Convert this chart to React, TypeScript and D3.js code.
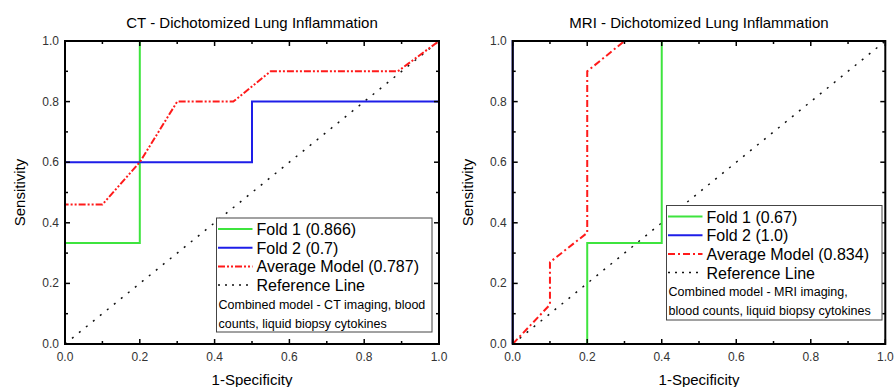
import * as d3 from "d3";

// ROC points, [1-specificity, sensitivity]
const ctFold1: [number, number][] = [[0, 0], [0, 0.333], [0.2, 0.333], [0.2, 1], [1, 1]];
const ctFold2: [number, number][] = [[0, 0], [0, 0.6], [0.5, 0.6], [0.5, 0.8], [1, 0.8], [1, 1]];
const ctAverage: [number, number][] = [
  [0, 0], [0, 0.46], [0.1, 0.46], [0.2, 0.6], [0.3, 0.8], [0.45, 0.8],
  [0.55, 0.9], [0.89, 0.9], [1, 1],
];
const mriFold1: [number, number][] = [[0, 0], [0.2, 0], [0.2, 0.333], [0.4, 0.333], [0.4, 1], [1, 1]];
const mriFold2: [number, number][] = [[0, 0], [0, 1], [1, 1]];
const mriAverage: [number, number][] = [
  [0, 0], [0.1, 0.13], [0.1, 0.27], [0.2, 0.367], [0.2, 0.9], [0.3, 1], [1, 1],
];
const referenceLine: [number, number][] = [[0, 0], [1, 1]];

const ctLabels = ["Fold 1 (0.866)", "Fold 2 (0.7)", "Average Model (0.787)", "Reference Line"];
const mriLabels = ["Fold 1 (0.67)", "Fold 2 (1.0)", "Average Model (0.834)", "Reference Line"];
const ctNote = ["Combined model - CT imaging, blood", "counts, liquid biopsy cytokines"];
const mriNote = ["Combined model - MRI imaging,", "blood counts, liquid biopsy cytokines"];

const majorTicks = [0, 0.2, 0.4, 0.6, 0.8, 1.0];
const minorTicks = [0.1, 0.3, 0.5, 0.7, 0.9];

const GREEN = "#3ee43e";
const BLUE = "#1e1ee8";
const RED = "#ff1a1a";
const FONT = "Liberation Sans, Arial, sans-serif";

type PanelProps = {
  title: string;
  left: number;
  right: number;
  fold1: [number, number][];
  fold2: [number, number][];
  average: [number, number][];
  avgDash: string;
  labels: string[];
  note: string[];
  legend: { x: number; y: number; w: number; h: number };
};

function Panel(p: PanelProps) {
  const top = 41;
  const bottom = 344;
  const x = d3.scaleLinear().domain([0, 1]).range([p.left, p.right]);
  const y = d3.scaleLinear().domain([0, 1]).range([bottom, top]);
  const line = d3
    .line<[number, number]>()
    .x((d) => x(d[0]))
    .y((d) => y(d[1]));

  const styles = [
    { stroke: GREEN, dash: "none" },
    { stroke: BLUE, dash: "none" },
    { stroke: RED, dash: p.avgDash },
    { stroke: "#111", dash: "2 5" },
  ];
  const lg = p.legend;

  return (
    <g>
      <text
        x={(p.left + p.right) / 2}
        y={28}
        textAnchor="middle"
        fontSize={15}
        fontFamily={FONT}
      >
        {p.title}
      </text>

      {/* curves */}
      <path d={line(referenceLine) || ""} fill="none" stroke="#111" strokeWidth={1.5} strokeDasharray="2 7" />
      <path d={line(p.fold1) || ""} fill="none" stroke={GREEN} strokeWidth={2} />
      <path d={line(p.fold2) || ""} fill="none" stroke={BLUE} strokeWidth={2} />
      <path d={line(p.average) || ""} fill="none" stroke={RED} strokeWidth={2} strokeDasharray={p.avgDash} />

      {/* frame */}
      <rect
        x={p.left}
        y={top}
        width={p.right - p.left}
        height={bottom - top}
        fill="none"
        stroke="#000"
        strokeWidth={2}
      />

      {/* ticks on all four sides, pointing inward */}
      {majorTicks.map((t, i) => (
        <g key={"M" + i}>
          <line x1={x(t)} x2={x(t)} y1={bottom} y2={bottom - 5} stroke="#000" strokeWidth={1.5} />
          <line x1={x(t)} x2={x(t)} y1={top} y2={top + 5} stroke="#000" strokeWidth={1.5} />
          <line x1={p.left} x2={p.left + 5} y1={y(t)} y2={y(t)} stroke="#000" strokeWidth={1.5} />
          <line x1={p.right} x2={p.right - 5} y1={y(t)} y2={y(t)} stroke="#000" strokeWidth={1.5} />
          <text x={x(t)} y={bottom + 17} textAnchor="middle" fontSize={12} fill="#333" fontFamily={FONT}>
            {t.toFixed(1)}
          </text>
          <text x={p.left - 6} y={y(t) + 4} textAnchor="end" fontSize={12} fill="#333" fontFamily={FONT}>
            {t.toFixed(1)}
          </text>
        </g>
      ))}
      {minorTicks.map((t, i) => (
        <g key={"m" + i}>
          <line x1={x(t)} x2={x(t)} y1={bottom} y2={bottom - 3} stroke="#000" strokeWidth={1.5} />
          <line x1={x(t)} x2={x(t)} y1={top} y2={top + 3} stroke="#000" strokeWidth={1.5} />
          <line x1={p.left} x2={p.left + 3} y1={y(t)} y2={y(t)} stroke="#000" strokeWidth={1.5} />
          <line x1={p.right} x2={p.right - 3} y1={y(t)} y2={y(t)} stroke="#000" strokeWidth={1.5} />
        </g>
      ))}

      <text x={(p.left + p.right) / 2} y={385} textAnchor="middle" fontSize={15} fontFamily={FONT}>
        1-Specificity
      </text>
      <text
        transform={`translate(${p.left - 40}, ${(top + bottom) / 2}) rotate(-90)`}
        textAnchor="middle"
        fontSize={15}
        fontFamily={FONT}
      >
        Sensitivity
      </text>

      {/* legend */}
      <rect x={lg.x} y={lg.y} width={lg.w} height={lg.h} fill="#fff" stroke="#444" strokeWidth={1} />
      {p.labels.map((l, i) => {
        const cy = lg.y + 11 + i * 18.7;
        return (
          <g key={l}>
            <line
              x1={lg.x + 1.5}
              x2={lg.x + 36}
              y1={cy}
              y2={cy}
              stroke={styles[i].stroke}
              strokeWidth={i === 3 ? 1.5 : 2}
              strokeDasharray={styles[i].dash}
            />
            <text x={lg.x + 40} y={cy + 6} fontSize={16} fontFamily={FONT}>
              {l}
            </text>
          </g>
        );
      })}
      {p.note.map((n, i) => (
        <text key={n} x={lg.x + 2} y={lg.y + 90.5 + i * 19} fontSize={12.5} fontFamily={FONT}>
          {n}
        </text>
      ))}
    </g>
  );
}

export default function App() {
  return (
    <svg
      width={894}
      height={387}
      style={{ position: "absolute", left: 0, top: 0, background: "#fff" }}
    >
      <Panel
        title="CT - Dichotomized Lung Inflammation"
        left={65}
        right={439}
        fold1={ctFold1}
        fold2={ctFold2}
        average={ctAverage}
        avgDash="7 2 2 2 2 2"
        labels={ctLabels}
        note={ctNote}
        legend={{ x: 216.5, y: 218, w: 215.5, h: 114 }}
      />
      <Panel
        title="MRI - Dichotomized Lung Inflammation"
        left={512.7}
        right={885.3}
        fold1={mriFold1}
        fold2={mriFold2}
        average={mriAverage}
        avgDash="7 3 2 3"
        labels={mriLabels}
        note={mriNote}
        legend={{ x: 666.5, y: 205.5, w: 215.5, h: 114.5 }}
      />
    </svg>
  );
}
